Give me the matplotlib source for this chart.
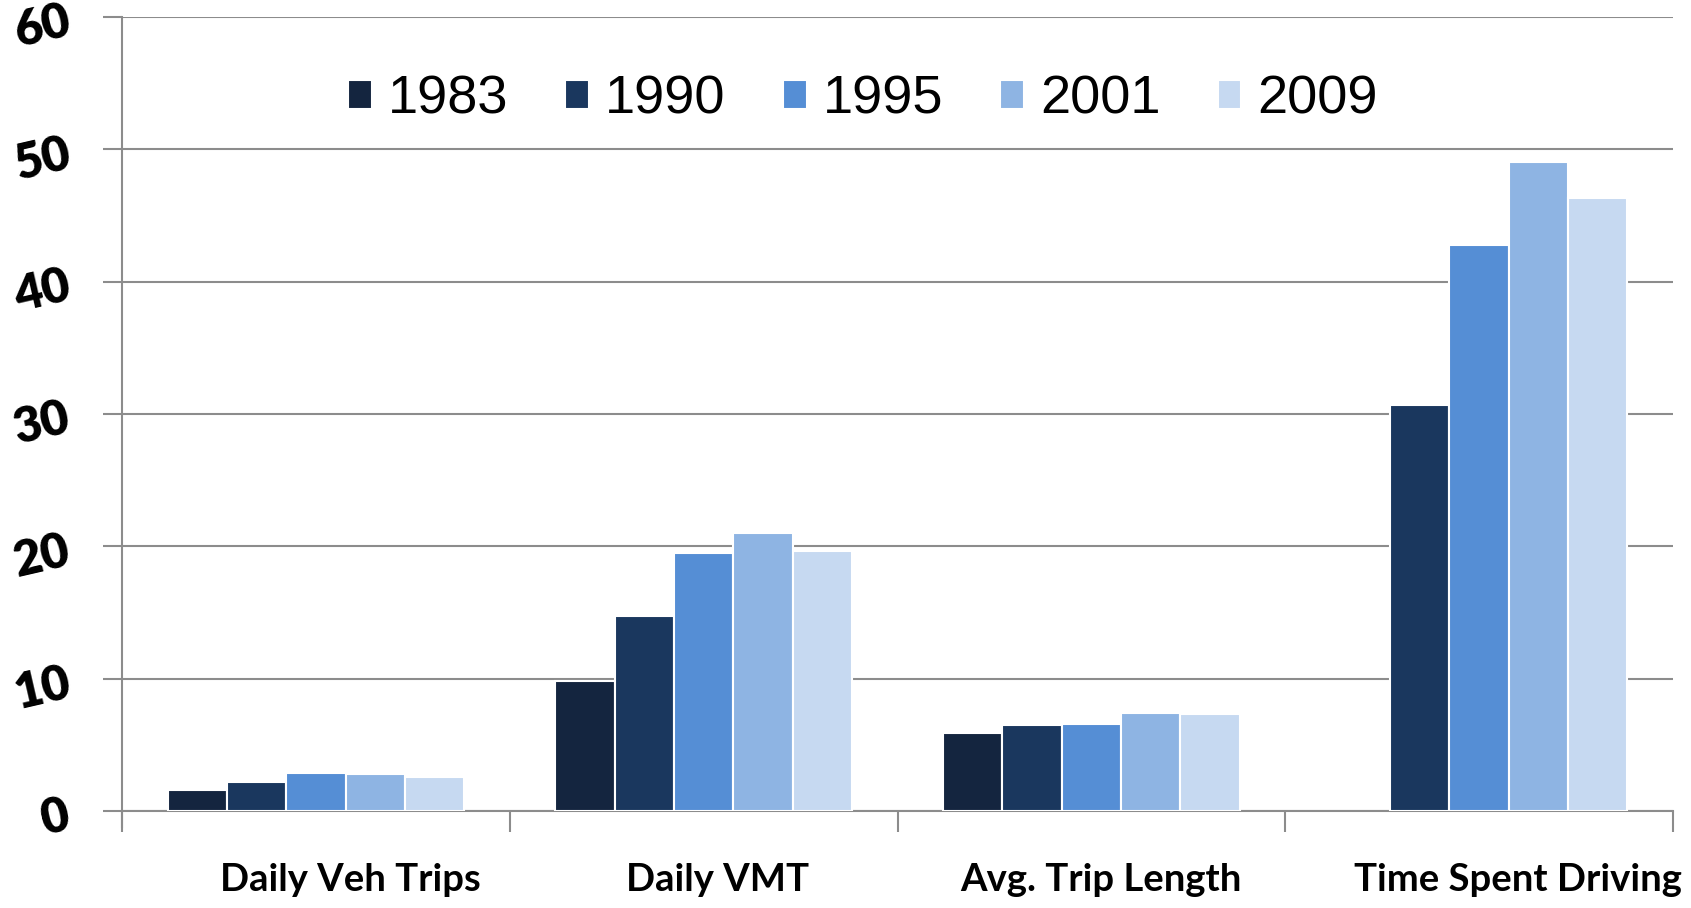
import numpy as np
import matplotlib.pyplot as plt

categories = ["Daily Veh Trips", "Daily VMT", "Avg. Trip Length", "Time Spent Driving"]
years = ["1983", "1990", "1995", "2001", "2009"]
v1983 = [1.55, 9.8, 5.9, 0.0]
v1990 = [2.2, 14.75, 6.5, 30.7]
v1995 = [2.85, 19.5, 6.6, 42.8]
v2001 = [2.8, 21.0, 7.4, 49.05]
v2009 = [2.6, 19.65, 7.35, 46.3]
series = [v1983, v1990, v1995, v2001, v2009]
colors = ["#14253f", "#1a375e", "#558ed5", "#8eb4e3", "#c6d9f1"]
yticks = [0, 10, 20, 30, 40, 50, 60]

fig = plt.figure(figsize=(16.91, 9.08), dpi=100)
ax = fig.add_axes([122/1691, 1-811/908, (1673-122)/1691, (811-17)/908])

x = np.arange(len(categories))
w = 0.153
handles = []
for i, (vals, c, yr) in enumerate(zip(series, colors, years)):
    vals = np.array(vals)
    xs = x + (i - 2) * w
    mask = vals > 0
    b = ax.bar(xs[mask], vals[mask], width=w, color=c, edgecolor="white",
               linewidth=1.5, zorder=3)
    handles.append(b)

ax.set_xlim(-0.5, len(categories) - 0.5)
ax.set_ylim(0, 60)
ax.set_yticks(yticks)
ax.yaxis.grid(True, color="#8c8c8c", linewidth=1.5, zorder=0)
for s in ["top", "right", "bottom"]:
    ax.spines[s].set_visible(False)
ax.spines["left"].set_color("#8c8c8c")
ax.spines["left"].set_linewidth(1.5)
ax.spines["left"].set_bounds(-1.2, 60)
ax.tick_params(axis="y", length=14, width=1.5, color="#8c8c8c", pad=20)
for lbl in ax.get_yticklabels():
    lbl.set_rotation(13)
    lbl.set_fontfamily("Lato")
    lbl.set_fontweight("heavy")
    lbl.set_fontsize(35)

ax.set_xticks(np.arange(len(categories) + 1) - 0.5)
ax.set_xticklabels([])
ax.tick_params(axis="x", which="major", length=15, width=1.5, color="#8c8c8c", direction="out")
ax.axhline(0, color="#8c8c8c", linewidth=1.5, zorder=2, clip_on=False)

offsets = [0.089, 0.036, 0.025, 0.1]
for xi, cat, off in zip(x, categories, offsets):
    ax.text(xi + off, -5.2, cat, ha="center", va="center", fontsize=27.5,
            fontweight="bold", family="Lato", clip_on=False)

leg = ax.legend(handles, years, loc="center",
                bbox_to_anchor=(863/1691, 1-100/908), bbox_transform=fig.transFigure,
                ncol=5, frameon=False, prop={"family": "Liberation Sans", "size": 39},
                handlelength=0.44, handleheight=0.44, handletextpad=0.3,
                columnspacing=1.05)

fig.savefig("out.png", dpi=100)
